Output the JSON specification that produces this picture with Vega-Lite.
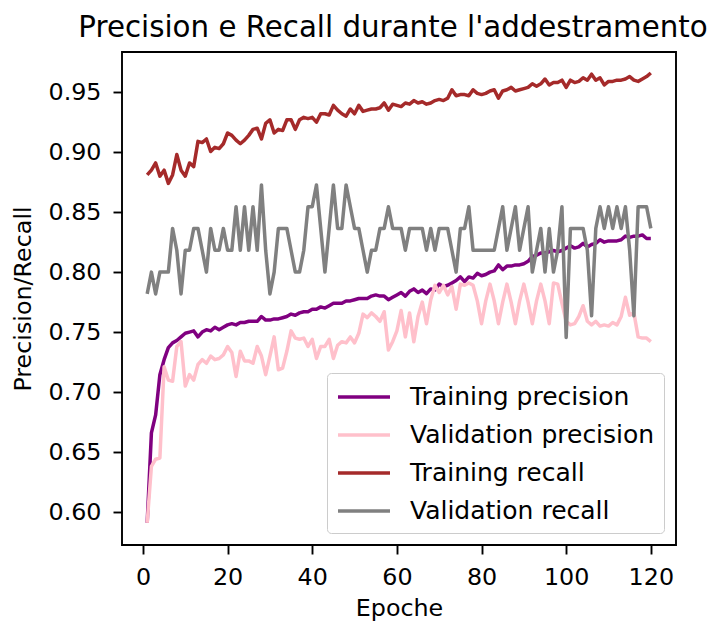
{
"$schema": "https://vega.github.io/schema/vega-lite/v6.json",
"width": 554, "height": 493,
"autosize": {"type": "none"},
"padding": {"left": 122, "top": 52, "right": 44, "bottom": 80},
"background": "white",
"config": {
  "font": "DejaVu Sans",
  "view": {"stroke": "black", "strokeWidth": 1.9},
  "axis": {"grid": false, "domain": false, "labelFont": "DejaVu Sans", "labelFontSize": 23.8, "labelColor": "black", "tickColor": "black", "tickWidth": 1.9, "tickSize": 9, "titleFont": "DejaVu Sans", "titleFontSize": 23.8, "titleFontWeight": "normal", "titleColor": "black", "labelFlush": false, "labelOverlap": false},
  "legend": {"symbolType": "M-1,0H3", "symbolSize": 676, "symbolStrokeWidth": 3.5, "labelFont": "DejaVu Sans", "labelFontSize": 25, "labelColor": "black", "labelOffset": 44, "rowPadding": 10, "padding": 9, "strokeColor": "#cccccc", "fillColor": "rgba(255,255,255,0.8)", "cornerRadius": 4, "labelLimit": 400}
},
"title": {"text": "Precision e Recall durante l'addestramento", "fontSize": 29.3, "fontWeight": "normal", "font": "DejaVu Sans", "color": "black", "anchor": "middle", "frame": "group", "offset": 9, "dx": -6},
"data": {"values": [
{"epoca":1,"Training precision":0.591,"Validation precision":0.591,"Training recall":0.881,"Validation recall":0.7818},
{"epoca":2,"Training precision":0.666,"Validation precision":0.638,"Training recall":0.885,"Validation recall":0.8},
{"epoca":3,"Training precision":0.681,"Validation precision":0.644,"Training recall":0.891,"Validation recall":0.7818},
{"epoca":4,"Training precision":0.7145,"Validation precision":0.645,"Training recall":0.880,"Validation recall":0.8},
{"epoca":5,"Training precision":0.727,"Validation precision":0.721,"Training recall":0.885,"Validation recall":0.8},
{"epoca":6,"Training precision":0.737,"Validation precision":0.710,"Training recall":0.874,"Validation recall":0.8},
{"epoca":7,"Training precision":0.741,"Validation precision":0.709,"Training recall":0.881,"Validation recall":0.8364},
{"epoca":8,"Training precision":0.743,"Validation precision":0.738,"Training recall":0.898,"Validation recall":0.8182},
{"epoca":9,"Training precision":0.746,"Validation precision":0.742,"Training recall":0.885,"Validation recall":0.7818},
{"epoca":10,"Training precision":0.749,"Validation precision":0.705,"Training recall":0.880,"Validation recall":0.8182},
{"epoca":11,"Training precision":0.750,"Validation precision":0.7145,"Training recall":0.891,"Validation recall":0.8182},
{"epoca":12,"Training precision":0.751,"Validation precision":0.710,"Training recall":0.888,"Validation recall":0.8364},
{"epoca":13,"Training precision":0.746,"Validation precision":0.723,"Training recall":0.909,"Validation recall":0.8364},
{"epoca":14,"Training precision":0.750,"Validation precision":0.727,"Training recall":0.908,"Validation recall":0.8182},
{"epoca":15,"Training precision":0.752,"Validation precision":0.724,"Training recall":0.911,"Validation recall":0.8},
{"epoca":16,"Training precision":0.751,"Validation precision":0.730,"Training recall":0.9005,"Validation recall":0.8364},
{"epoca":17,"Training precision":0.754,"Validation precision":0.727,"Training recall":0.904,"Validation recall":0.8182},
{"epoca":18,"Training precision":0.752,"Validation precision":0.728,"Training recall":0.903,"Validation recall":0.8182},
{"epoca":19,"Training precision":0.754,"Validation precision":0.731,"Training recall":0.907,"Validation recall":0.8364},
{"epoca":20,"Training precision":0.756,"Validation precision":0.738,"Training recall":0.916,"Validation recall":0.8182},
{"epoca":21,"Training precision":0.757,"Validation precision":0.733,"Training recall":0.914,"Validation recall":0.8182},
{"epoca":22,"Training precision":0.756,"Validation precision":0.713,"Training recall":0.910,"Validation recall":0.8545},
{"epoca":23,"Training precision":0.758,"Validation precision":0.734,"Training recall":0.907,"Validation recall":0.8182},
{"epoca":24,"Training precision":0.758,"Validation precision":0.726,"Training recall":0.910,"Validation recall":0.8545},
{"epoca":25,"Training precision":0.759,"Validation precision":0.726,"Training recall":0.914,"Validation recall":0.8182},
{"epoca":26,"Training precision":0.759,"Validation precision":0.724,"Training recall":0.919,"Validation recall":0.8545},
{"epoca":27,"Training precision":0.759,"Validation precision":0.738,"Training recall":0.920,"Validation recall":0.8182},
{"epoca":28,"Training precision":0.763,"Validation precision":0.730,"Training recall":0.911,"Validation recall":0.8727},
{"epoca":29,"Training precision":0.760,"Validation precision":0.7145,"Training recall":0.924,"Validation recall":0.8182},
{"epoca":30,"Training precision":0.760,"Validation precision":0.730,"Training recall":0.927,"Validation recall":0.7818},
{"epoca":31,"Training precision":0.761,"Validation precision":0.746,"Training recall":0.916,"Validation recall":0.8},
{"epoca":32,"Training precision":0.761,"Validation precision":0.7186,"Training recall":0.919,"Validation recall":0.8364},
{"epoca":33,"Training precision":0.762,"Validation precision":0.720,"Training recall":0.918,"Validation recall":0.8364},
{"epoca":34,"Training precision":0.763,"Validation precision":0.734,"Training recall":0.927,"Validation recall":0.8364},
{"epoca":35,"Training precision":0.765,"Validation precision":0.751,"Training recall":0.927,"Validation recall":0.8182},
{"epoca":36,"Training precision":0.764,"Validation precision":0.745,"Training recall":0.919,"Validation recall":0.8},
{"epoca":37,"Training precision":0.766,"Validation precision":0.744,"Training recall":0.927,"Validation recall":0.8},
{"epoca":38,"Training precision":0.767,"Validation precision":0.745,"Training recall":0.929,"Validation recall":0.8182},
{"epoca":39,"Training precision":0.767,"Validation precision":0.738,"Training recall":0.928,"Validation recall":0.8545},
{"epoca":40,"Training precision":0.769,"Validation precision":0.744,"Training recall":0.929,"Validation recall":0.8545},
{"epoca":41,"Training precision":0.769,"Validation precision":0.728,"Training recall":0.925,"Validation recall":0.8727},
{"epoca":42,"Training precision":0.771,"Validation precision":0.738,"Training recall":0.932,"Validation recall":0.8364},
{"epoca":43,"Training precision":0.770,"Validation precision":0.738,"Training recall":0.932,"Validation recall":0.8},
{"epoca":44,"Training precision":0.772,"Validation precision":0.744,"Training recall":0.931,"Validation recall":0.8364},
{"epoca":45,"Training precision":0.774,"Validation precision":0.728,"Training recall":0.939,"Validation recall":0.8727},
{"epoca":46,"Training precision":0.774,"Validation precision":0.739,"Training recall":0.935,"Validation recall":0.8364},
{"epoca":47,"Training precision":0.774,"Validation precision":0.742,"Training recall":0.932,"Validation recall":0.8364},
{"epoca":48,"Training precision":0.776,"Validation precision":0.741,"Training recall":0.930,"Validation recall":0.8727},
{"epoca":49,"Training precision":0.776,"Validation precision":0.746,"Training recall":0.936,"Validation recall":0.8545},
{"epoca":50,"Training precision":0.777,"Validation precision":0.741,"Training recall":0.932,"Validation recall":0.8364},
{"epoca":51,"Training precision":0.778,"Validation precision":0.749,"Training recall":0.939,"Validation recall":0.8364},
{"epoca":52,"Training precision":0.778,"Validation precision":0.765,"Training recall":0.934,"Validation recall":0.8182},
{"epoca":53,"Training precision":0.778,"Validation precision":0.762,"Training recall":0.935,"Validation recall":0.8},
{"epoca":54,"Training precision":0.780,"Validation precision":0.766,"Training recall":0.936,"Validation recall":0.8182},
{"epoca":55,"Training precision":0.781,"Validation precision":0.763,"Training recall":0.936,"Validation recall":0.8182},
{"epoca":56,"Training precision":0.780,"Validation precision":0.759,"Training recall":0.937,"Validation recall":0.8364},
{"epoca":57,"Training precision":0.780,"Validation precision":0.767,"Training recall":0.941,"Validation recall":0.8364},
{"epoca":58,"Training precision":0.777,"Validation precision":0.735,"Training recall":0.935,"Validation recall":0.8545},
{"epoca":59,"Training precision":0.779,"Validation precision":0.742,"Training recall":0.940,"Validation recall":0.8364},
{"epoca":60,"Training precision":0.781,"Validation precision":0.751,"Training recall":0.939,"Validation recall":0.8364},
{"epoca":61,"Training precision":0.783,"Validation precision":0.768,"Training recall":0.938,"Validation recall":0.8364},
{"epoca":62,"Training precision":0.780,"Validation precision":0.746,"Training recall":0.941,"Validation recall":0.8182},
{"epoca":63,"Training precision":0.784,"Validation precision":0.766,"Training recall":0.940,"Validation recall":0.8364},
{"epoca":64,"Training precision":0.786,"Validation precision":0.742,"Training recall":0.943,"Validation recall":0.8364},
{"epoca":65,"Training precision":0.783,"Validation precision":0.763,"Training recall":0.941,"Validation recall":0.8364},
{"epoca":66,"Training precision":0.785,"Validation precision":0.775,"Training recall":0.942,"Validation recall":0.8364},
{"epoca":67,"Training precision":0.782,"Validation precision":0.757,"Training recall":0.940,"Validation recall":0.8182},
{"epoca":68,"Training precision":0.786,"Validation precision":0.777,"Training recall":0.941,"Validation recall":0.8364},
{"epoca":69,"Training precision":0.785,"Validation precision":0.789,"Training recall":0.943,"Validation recall":0.8182},
{"epoca":70,"Training precision":0.790,"Validation precision":0.783,"Training recall":0.944,"Validation recall":0.8364},
{"epoca":71,"Training precision":0.788,"Validation precision":0.789,"Training recall":0.943,"Validation recall":0.8364},
{"epoca":72,"Training precision":0.789,"Validation precision":0.781,"Training recall":0.945,"Validation recall":0.8364},
{"epoca":73,"Training precision":0.791,"Validation precision":0.788,"Training recall":0.952,"Validation recall":0.8182},
{"epoca":74,"Training precision":0.793,"Validation precision":0.769,"Training recall":0.947,"Validation recall":0.8},
{"epoca":75,"Training precision":0.796,"Validation precision":0.790,"Training recall":0.948,"Validation recall":0.8364},
{"epoca":76,"Training precision":0.792,"Validation precision":0.789,"Training recall":0.948,"Validation recall":0.8364},
{"epoca":77,"Training precision":0.796,"Validation precision":0.791,"Training recall":0.947,"Validation recall":0.8545},
{"epoca":78,"Training precision":0.795,"Validation precision":0.789,"Training recall":0.952,"Validation recall":0.8182},
{"epoca":79,"Training precision":0.799,"Validation precision":0.776,"Training recall":0.949,"Validation recall":0.8182},
{"epoca":80,"Training precision":0.797,"Validation precision":0.757,"Training recall":0.948,"Validation recall":0.8182},
{"epoca":81,"Training precision":0.798,"Validation precision":0.776,"Training recall":0.949,"Validation recall":0.8182},
{"epoca":82,"Training precision":0.800,"Validation precision":0.790,"Training recall":0.951,"Validation recall":0.8182},
{"epoca":83,"Training precision":0.801,"Validation precision":0.776,"Training recall":0.952,"Validation recall":0.8182},
{"epoca":84,"Training precision":0.806,"Validation precision":0.757,"Training recall":0.945,"Validation recall":0.8364},
{"epoca":85,"Training precision":0.802,"Validation precision":0.775,"Training recall":0.951,"Validation recall":0.8545},
{"epoca":86,"Training precision":0.805,"Validation precision":0.790,"Training recall":0.952,"Validation recall":0.8182},
{"epoca":87,"Training precision":0.805,"Validation precision":0.775,"Training recall":0.954,"Validation recall":0.8364},
{"epoca":88,"Training precision":0.806,"Validation precision":0.757,"Training recall":0.951,"Validation recall":0.8545},
{"epoca":89,"Training precision":0.806,"Validation precision":0.776,"Training recall":0.952,"Validation recall":0.8182},
{"epoca":90,"Training precision":0.807,"Validation precision":0.790,"Training recall":0.953,"Validation recall":0.8364},
{"epoca":91,"Training precision":0.809,"Validation precision":0.775,"Training recall":0.954,"Validation recall":0.8545},
{"epoca":92,"Training precision":0.813,"Validation precision":0.757,"Training recall":0.957,"Validation recall":0.8},
{"epoca":93,"Training precision":0.814,"Validation precision":0.776,"Training recall":0.955,"Validation recall":0.8182},
{"epoca":94,"Training precision":0.816,"Validation precision":0.790,"Training recall":0.957,"Validation recall":0.8364},
{"epoca":95,"Training precision":0.816,"Validation precision":0.776,"Training recall":0.961,"Validation recall":0.8},
{"epoca":96,"Training precision":0.817,"Validation precision":0.757,"Training recall":0.956,"Validation recall":0.8364},
{"epoca":97,"Training precision":0.818,"Validation precision":0.791,"Training recall":0.958,"Validation recall":0.8},
{"epoca":98,"Training precision":0.817,"Validation precision":0.790,"Training recall":0.958,"Validation recall":0.8182},
{"epoca":99,"Training precision":0.818,"Validation precision":0.774,"Training recall":0.960,"Validation recall":0.8545},
{"epoca":100,"Training precision":0.820,"Validation precision":0.759,"Training recall":0.954,"Validation recall":0.7455},
{"epoca":101,"Training precision":0.822,"Validation precision":0.756,"Training recall":0.960,"Validation recall":0.8364},
{"epoca":102,"Training precision":0.820,"Validation precision":0.757,"Training recall":0.958,"Validation recall":0.8364},
{"epoca":103,"Training precision":0.821,"Validation precision":0.763,"Training recall":0.959,"Validation recall":0.8364},
{"epoca":104,"Training precision":0.824,"Validation precision":0.772,"Training recall":0.962,"Validation recall":0.8364},
{"epoca":105,"Training precision":0.821,"Validation precision":0.759,"Training recall":0.960,"Validation recall":0.8182},
{"epoca":106,"Training precision":0.823,"Validation precision":0.756,"Training recall":0.965,"Validation recall":0.7636},
{"epoca":107,"Training precision":0.824,"Validation precision":0.759,"Training recall":0.960,"Validation recall":0.8364},
{"epoca":108,"Training precision":0.827,"Validation precision":0.755,"Training recall":0.962,"Validation recall":0.8545},
{"epoca":109,"Training precision":0.825,"Validation precision":0.756,"Training recall":0.956,"Validation recall":0.8364},
{"epoca":110,"Training precision":0.826,"Validation precision":0.755,"Training recall":0.959,"Validation recall":0.8545},
{"epoca":111,"Training precision":0.826,"Validation precision":0.758,"Training recall":0.959,"Validation recall":0.8364},
{"epoca":112,"Training precision":0.826,"Validation precision":0.756,"Training recall":0.960,"Validation recall":0.8545},
{"epoca":113,"Training precision":0.827,"Validation precision":0.763,"Training recall":0.960,"Validation recall":0.8364},
{"epoca":114,"Training precision":0.830,"Validation precision":0.779,"Training recall":0.961,"Validation recall":0.8545},
{"epoca":115,"Training precision":0.829,"Validation precision":0.764,"Training recall":0.963,"Validation recall":0.8182},
{"epoca":116,"Training precision":0.830,"Validation precision":0.766,"Training recall":0.960,"Validation recall":0.7636},
{"epoca":117,"Training precision":0.830,"Validation precision":0.746,"Training recall":0.959,"Validation recall":0.8545},
{"epoca":118,"Training precision":0.831,"Validation precision":0.745,"Training recall":0.961,"Validation recall":0.8545},
{"epoca":119,"Training precision":0.828,"Validation precision":0.745,"Training recall":0.963,"Validation recall":0.8545},
{"epoca":120,"Training precision":0.828,"Validation precision":0.742,"Training recall":0.966,"Validation recall":0.8364}
]},
"transform": [{"fold": ["Training precision", "Validation precision", "Training recall", "Validation recall"], "as": ["serie", "valore"]}],
"mark": {"type": "line", "strokeWidth": 3.5, "strokeJoin": "round"},
"encoding": {
  "x": {"field": "epoca", "type": "quantitative", "scale": {"domain": [-4.95, 125.95], "nice": false, "zero": false}, "axis": {"values": [0, 20, 40, 60, 80, 100, 120], "title": "Epoche", "labelPadding": 11, "titlePadding": 8}},
  "y": {"field": "valore", "type": "quantitative", "scale": {"domain": [0.5725, 0.9835], "nice": false, "zero": false}, "axis": {"values": [0.6, 0.65, 0.7, 0.75, 0.8, 0.85, 0.9, 0.95], "format": ".2f", "title": "Precision/Recall", "labelPadding": 12, "titlePadding": 13}},
  "color": {"field": "serie", "type": "nominal", "scale": {"domain": ["Training precision", "Validation precision", "Training recall", "Validation recall"], "range": ["#800080", "#FFC0CB", "#A52A2A", "#808080"]}, "legend": {"title": null, "orient": "bottom-right", "offset": 12}}
}
}
